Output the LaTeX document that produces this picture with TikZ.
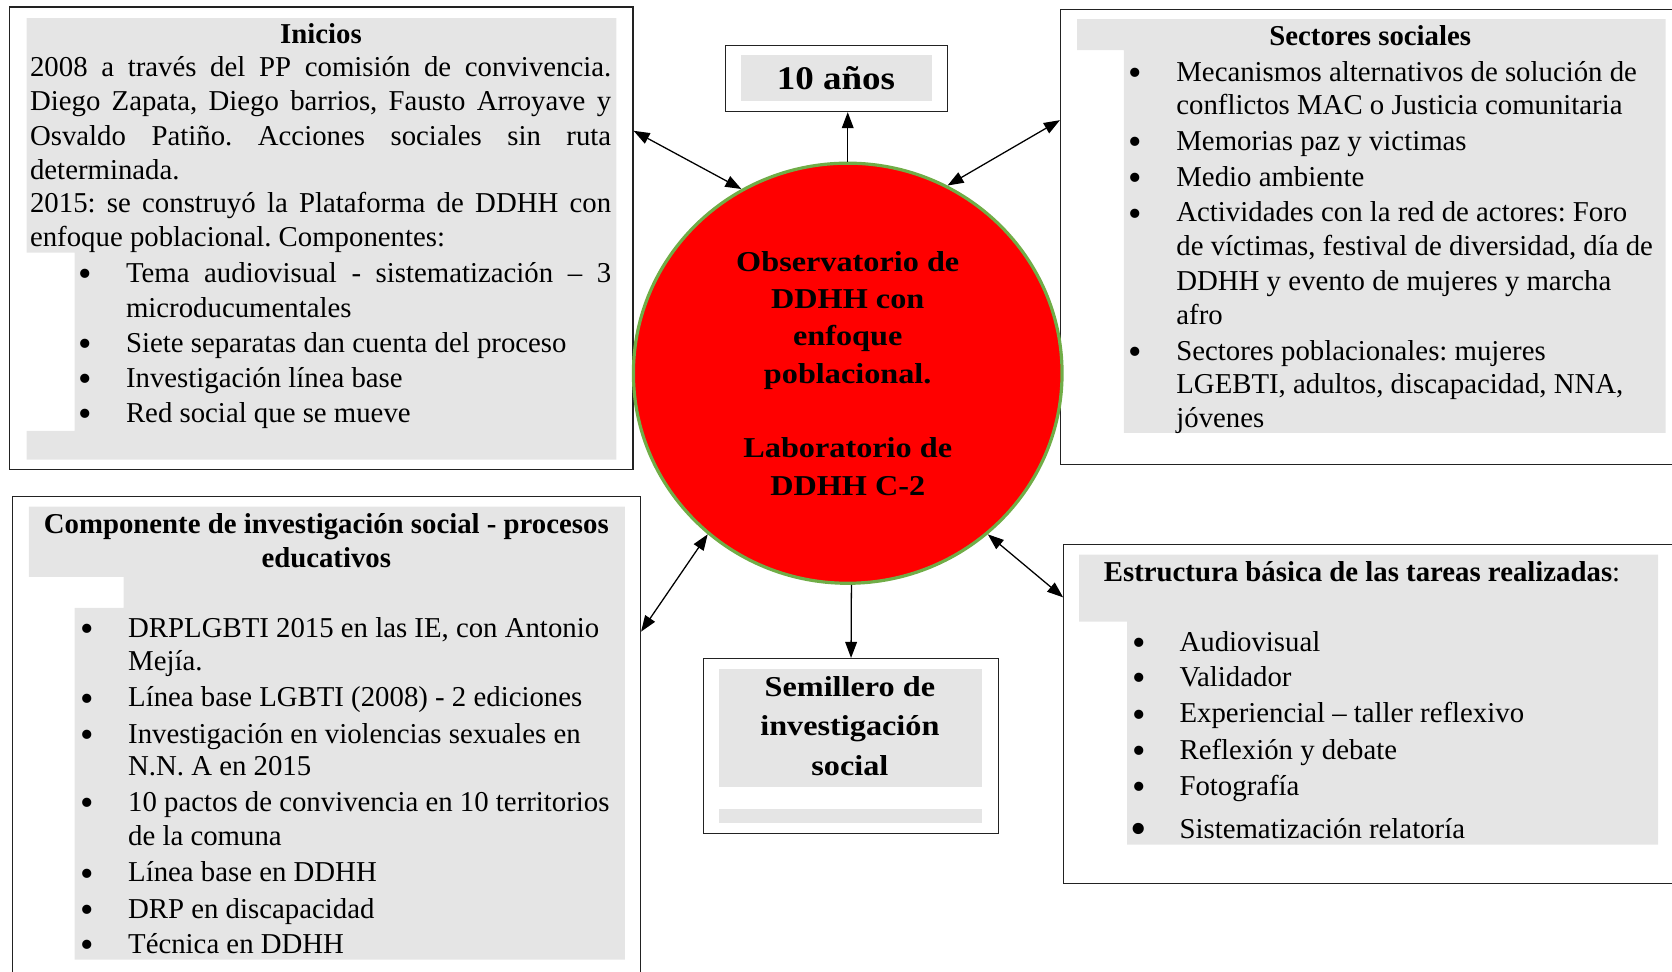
\documentclass[tikz,border=0pt]{standalone}
\usepackage{fontspec}
\setmainfont{Liberation Serif}
\newfontfamily\widefont[FakeStretch=1.12]{Liberation Serif}
\usetikzlibrary{shapes.geometric,arrows.meta,calc}
\definecolor{boxgray}{HTML}{E5E5E5}
\definecolor{ringgreen}{HTML}{70AD47}
\definecolor{edgecol}{HTML}{222222}
\tikzset{
  frame/.style={draw=edgecol, line width=1.2pt, anchor=north west, inner sep=0pt, rectangle},
  txt/.style={anchor=base west, inner sep=0pt, font=\fontsize{27}{32}\selectfont},
  ttl/.style={anchor=base, inner sep=0pt, font=\fontsize{27}{32}\selectfont\bfseries},
  blt/.style={anchor=base, inner sep=0pt, yshift=-4pt, font=\fontsize{36}{36}\selectfont},
  widetxt/.style={anchor=base, inner sep=0pt, font=\widefont\fontsize{27}{35}\selectfont\bfseries},
  link/.style={line width=1.2pt, draw=black},
}
\begin{document}
\frenchspacing
\begin{tikzpicture}[x=1pt,y=-1pt,>={Triangle[length=15pt,width=11pt]}]
\useasboundingbox (0,0) rectangle (1568,911);
\clip (0,0) rectangle (1568,911);

% grey backgrounds
\fill[boxgray] (25,17) -- (578,17) -- (578,431) -- (25,431) -- (25,404) -- (70,404) -- (70,237) -- (25,237) -- cycle;
\fill[boxgray] (1010,18) -- (1562,18) -- (1562,406) -- (1054,406) -- (1054,47) -- (1010,47) -- cycle;
\fill[boxgray] (27,475) -- (586,475) -- (586,900) -- (70,900) -- (70,570) -- (116,570) -- (116,541) -- (27,541) -- cycle;
\fill[boxgray] (1012,520) -- (1555,520) -- (1555,792) -- (1057,792) -- (1057,583) -- (1012,583) -- cycle;
\fill[boxgray] (695,52) rectangle (874,95);
\fill[boxgray] (674,627) rectangle (921,738);
\fill[boxgray] (674,759) rectangle (921,772);

% frames
\node[frame, minimum width=585pt, minimum height=434pt] (ini) at (8,6) {};
\node[frame, minimum width=208pt, minimum height=62pt] (ten) at (680,42) {};
\node[frame, minimum width=600pt, minimum height=427pt] (sec) at (994,8) {};
\node[frame, minimum width=589pt, minimum height=480pt] (comp) at (11,465) {};
\node[frame, minimum width=277pt, minimum height=164pt] (sem) at (659,617) {};
\node[frame, minimum width=600pt, minimum height=318pt] (est) at (997,510) {};

% Inicios
\node[ttl] (ini-title) at (301,41) {Inicios};
\foreach \yy/\tx [count=\i] in {
  72/{\makebox[545pt][s]{2008 a través del PP comisión de convivencia.}},
  104/{\makebox[545pt][s]{Diego Zapata, Diego barrios, Fausto Arroyave y}},
  136/{\makebox[545pt][s]{Osvaldo Patiño. Acciones sociales sin ruta}},
  168/{determinada.},
  199/{\makebox[545pt][s]{2015: se construyó la Plataforma de DDHH con}},
  231/{enfoque poblacional. Componentes:}}
  \node[txt] (ini-p\i) at (28,\yy) {\tx};
\foreach \yy [count=\i] in {265,330.6,363.4,396.2}
  \node[blt] (ini-b\i) at (80,\yy) {•};
\foreach \yy/\tx [count=\i] in {
  265/{\makebox[455pt][s]{Tema audiovisual - sistematización – 3}},
  297.8/{microducumentales},
  330.6/{Siete separatas dan cuenta del proceso},
  363.4/{Investigación línea base},
  396.2/{Red social que se mueve}}
  \node[txt] (ini-t\i) at (118,\yy) {\tx};

% 10 anos
\node[anchor=base, inner sep=0pt, font=\widefont\fontsize{31}{36}\selectfont\bfseries] (ten-lbl) at (784,84) {10 años};

% Sectores sociales
\node[ttl] (sec-title) at (1285,43) {Sectores sociales};
\foreach \yy [count=\i] in {76,141,175,208,338}
  \node[blt] (sec-b\i) at (1065,\yy) {•};
\foreach \yy/\tx [count=\i] in {
  76/{Mecanismos alternativos de solución de},
  107/{conflictos MAC o Justicia comunitaria},
  141/{Memorias paz y victimas},
  175/{Medio ambiente},
  208/{Actividades con la red de actores: Foro},
  240/{de víctimas, festival de diversidad, día de},
  272/{DDHH y evento de mujeres y marcha},
  304/{afro},
  338/{Sectores poblacionales: mujeres},
  369/{LGEBTI, adultos, discapacidad, NNA,},
  401/{jóvenes}}
  \node[txt] (sec-t\i) at (1103,\yy) {\tx};

% Componente
\node[ttl] (comp-title1) at (306,500) {Componente de investigación social - procesos};
\node[ttl] (comp-title2) at (306,532) {educativos};
\foreach \yy [count=\i] in {598,663,697,761,827,861,894}
  \node[blt] (comp-b\i) at (82,\yy) {•};
\foreach \yy/\tx [count=\i] in {
  598/{DRPLGBTI 2015 en las IE, con Antonio},
  629/{Mejía.},
  663/{Línea base LGBTI (2008) - 2 ediciones},
  697/{Investigación en violencias sexuales en},
  727/{N.N. A en 2015},
  761/{10 pactos de convivencia en 10 territorios},
  793/{de la comuna},
  827/{Línea base en DDHH},
  861/{DRP en discapacidad},
  894/{Técnica en DDHH}}
  \node[txt] (comp-t\i) at (120,\yy) {\tx};

% Estructura
\node[txt] (est-title) at (1035,545) {\bfseries Estructura básica de las tareas realizadas\mdseries:};
\foreach \yy [count=\i] in {611,644,678,712,746}
  \node[blt] (est-b\i) at (1068,\yy) {•};
\node[blt, yshift=-2pt, font=\fontsize{44}{44}\selectfont] (est-b6) at (1068,786) {•};
\foreach \yy/\tx [count=\i] in {
  611/{Audiovisual},
  644/{Validador},
  678/{Experiencial – taller reflexivo},
  712/{Reflexión y debate},
  746/{Fotografía},
  786/{Sistematización relatoría}}
  \node[txt] (est-t\i) at (1106,\yy) {\tx};

% Semillero
\node[widetxt] (sem-l1) at (797,653) {Semillero de};
\node[widetxt] (sem-l2) at (797,690) {investigación};
\node[widetxt] (sem-l3) at (797,727) {social};

% central ellipse
\node[ellipse, draw=ringgreen, line width=3pt, fill=red, minimum width=402pt, minimum height=394pt,
      inner sep=0pt, align=center, font=\widefont\fontsize{27}{35}\selectfont\bfseries] (obs) at (795,350)
  {Observatorio de\\DDHH con\\enfoque\\poblacional.\\[35pt]Laboratorio de\\DDHH C-2};

% connectors
\draw[link,<->] (obs.120) -- (ini.19.4);
\draw[link,->] (obs.90) -- (obs.90 |- ten.south);
\draw[link,<->] (obs.62) -- (sec.160.4);
\draw[link,<->] (obs.229) -- (comp.21.6);
\draw[link,->] (obs.271) -- (sem.north);
\draw[link,<->] (obs.-49) -- (est.160.9);
\end{tikzpicture}
\end{document}
